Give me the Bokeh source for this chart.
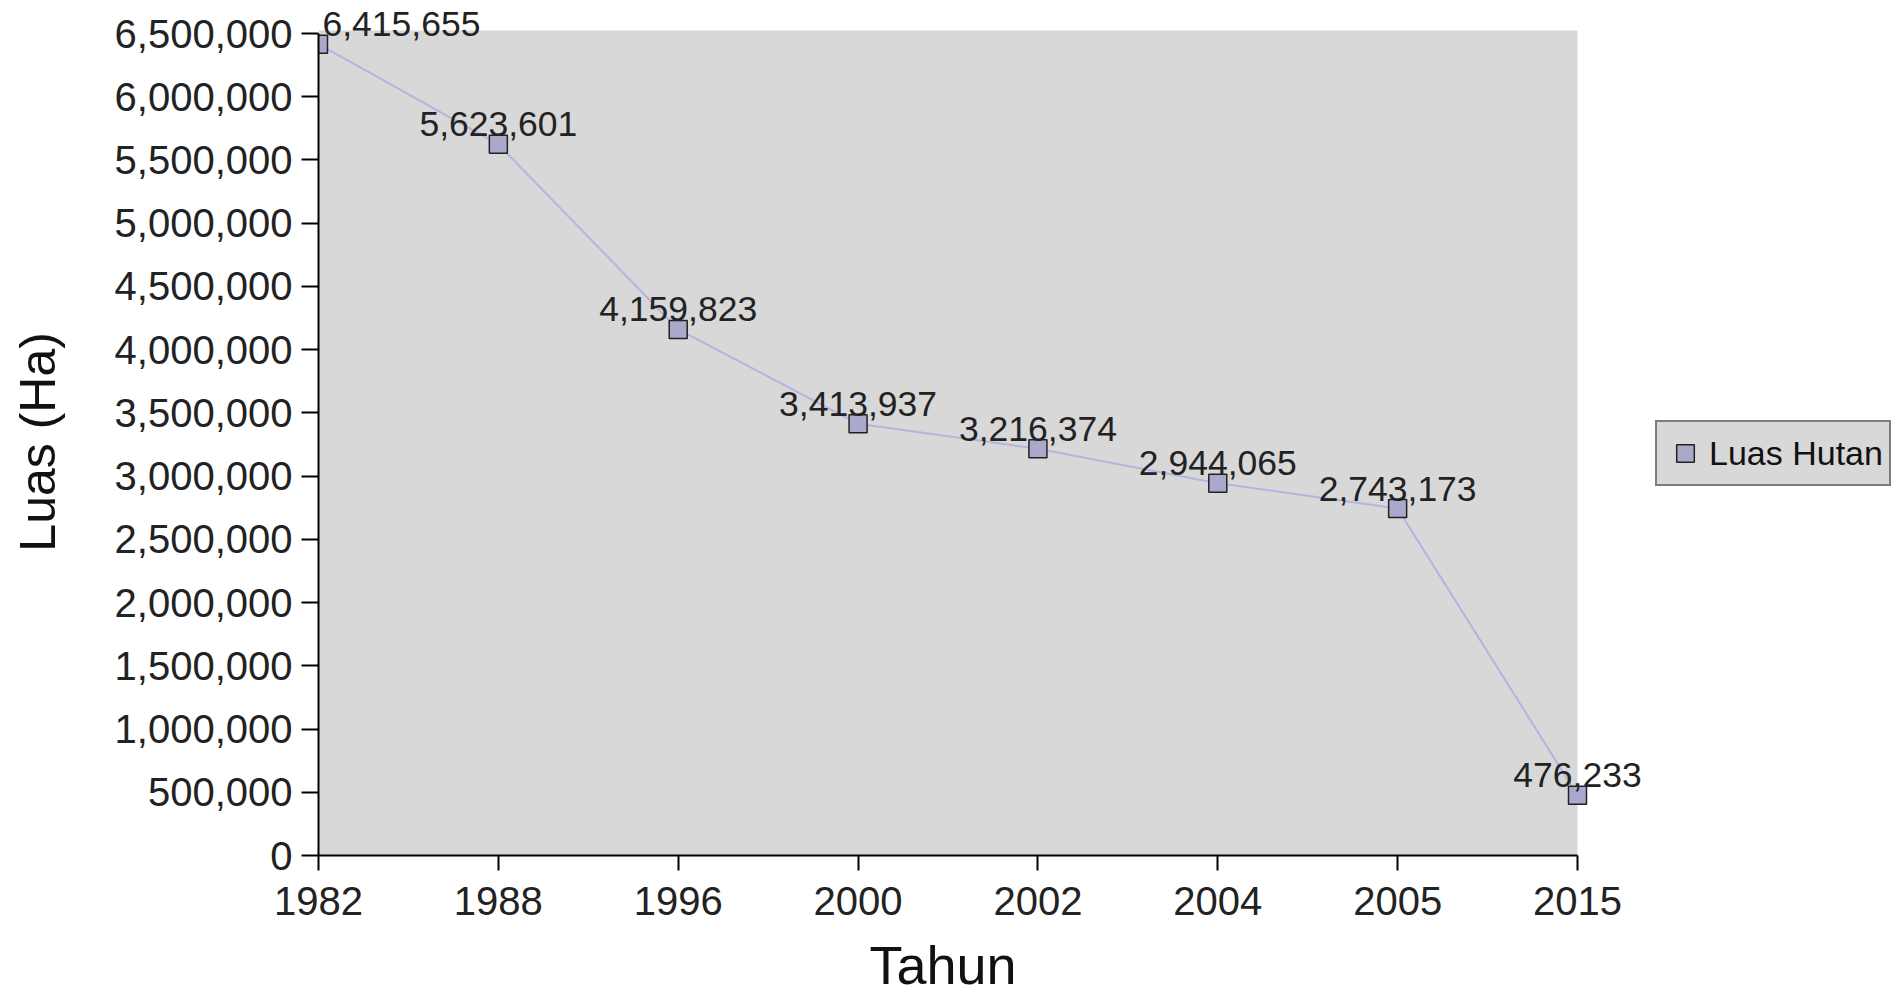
from bokeh.plotting import figure
from bokeh.models import (ColumnDataSource, FixedTicker, Range1d, Legend, LegendItem,
                          NumeralTickFormatter, BoxAnnotation)
from bokeh.embed import file_html
from bokeh.resources import INLINE

years = ["1982", "1988", "1996", "2000", "2002", "2004", "2005", "2015"]
luas = [6415655, 5623601, 4159823, 3413937, 3216374, 2944065, 2743173, 476233]
label_text = ["6,415,655", "5,623,601", "4,159,823", "3,413,937", "3,216,374",
              "2,944,065", "2,743,173", "476,233"]
y_ticks = list(range(0, 6500001, 500000))
x_title = "Tahun"
y_title = "Luas (Ha)"
series_name = "Luas Hutan"

FONT = "Liberation Sans"
NBSP = "\u00a0"
xs = list(range(len(years)))
n_last = len(years) - 1

p = figure(width=1897, height=997, output_backend="svg", toolbar_location=None,
           x_range=Range1d(0, n_last * 1579 / 1259), y_range=Range1d(0, 6500000 * 855 / 822),
           min_border_left=318, min_border_right=0, min_border_top=0,
           min_border_bottom=142)
p.background_fill_color = "white"
p.border_fill_color = "white"
p.outline_line_color = None
p.xgrid.visible = False
p.ygrid.visible = False

# grey plotting area (only over the data span; the frame also holds the legend)
p.add_layout(BoxAnnotation(left=0, right=n_last, bottom=0, top=6524000,
                           fill_color="#d8d8d8", fill_alpha=1, line_color=None,
                           level="underlay"))

src = ColumnDataSource(dict(x=xs, y=luas, lbl=label_text,
                            align=["left"] + ["center"] * n_last,
                            dx=[4] + [0] * n_last))

p.line("x", "y", source=src, line_color="#b4b4e0", line_width=2)
pts = p.scatter("x", "y", source=src, marker="square", size=18,
                fill_color="#a9a9cc", line_color="#222222", line_width=1.5)

p.text("x", "y", text="lbl", source=src, x_offset="dx", y_offset=-8,
       text_align="align", text_baseline="bottom", text_font_size="35.5px",
       text_color="#222222", text_font={"value": FONT})

p.xaxis.ticker = FixedTicker(ticks=xs)
p.xaxis.major_label_overrides = {i: y for i, y in enumerate(years)}
p.yaxis.ticker = FixedTicker(ticks=y_ticks)
p.yaxis.formatter = NumeralTickFormatter(format="0,0")
p.xaxis.bounds = (0, n_last)
p.yaxis.bounds = (0, 6500000)

for ax in (p.xaxis[0], p.yaxis[0]):
    ax.axis_line_color = "black"
    ax.axis_line_width = 2
    ax.major_tick_line_color = "black"
    ax.major_tick_line_width = 2
    ax.major_tick_in = 0
    ax.minor_tick_line_color = None
    ax.major_label_text_font = FONT
    ax.major_label_text_font_size = "40px"
    ax.major_label_text_color = "#222222"
    ax.axis_label_text_font = FONT
    ax.axis_label_text_font_style = "normal"
    ax.axis_label_text_color = "#111111"

p.xaxis.major_tick_out = 15
p.yaxis.major_tick_out = 17
p.xaxis.major_label_standoff = 16
p.yaxis.major_label_standoff = 9

# axis titles are centred on the frame, which also spans the legend area;
# trailing non-breaking spaces move the visible words over the plotted span
p.xaxis.axis_label = x_title + NBSP * 22
p.yaxis.axis_label = y_title + NBSP * 2
p.xaxis.axis_label_text_font_size = "54px"
p.yaxis.axis_label_text_font_size = "50px"
p.xaxis.axis_label_standoff = 17
p.yaxis.axis_label_standoff = 46

legend = Legend(items=[LegendItem(label=series_name, renderers=[pts])],
                location=(1337, 369), orientation="vertical")
legend.background_fill_color = "#d8d8d8"
legend.background_fill_alpha = 1
legend.border_line_color = "#222222"
legend.border_line_width = 2
legend.label_text_font = FONT
legend.label_text_font_size = "34px"
legend.label_text_color = "#111111"
legend.glyph_width = 44
legend.glyph_height = 50
legend.padding = 6
legend.margin = 0
legend.spacing = 0
legend.label_standoff = 2
p.add_layout(legend, "center")

open("out.html", "w").write(file_html(p, INLINE))
